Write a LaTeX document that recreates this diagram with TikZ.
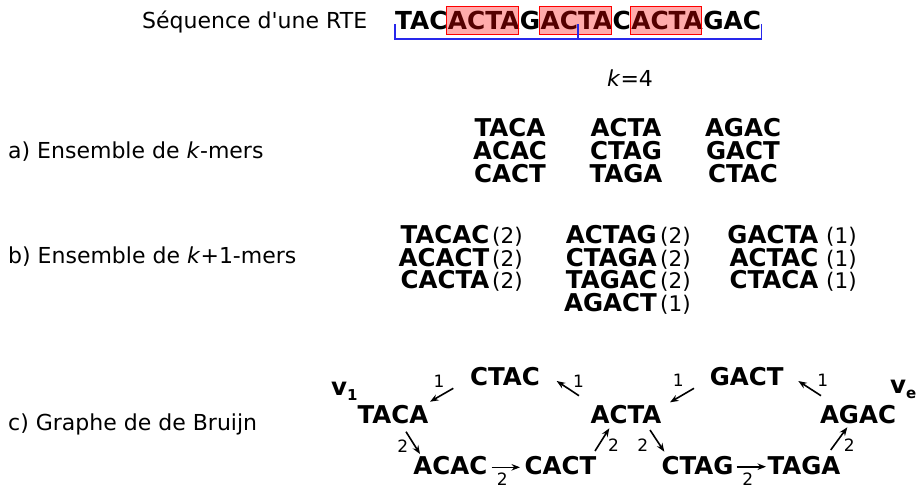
\documentclass[tikz,border=0pt]{standalone}
\usepackage{fontspec}
\setmainfont{DejaVu Sans}[Ligatures=TeXOff]
\usetikzlibrary{calc,arrows.meta}
\definecolor{seqblue}{RGB}{40,40,235}
\tikzset{
 lbl/.style={font=\fontsize{22}{26}\selectfont, inner sep=0pt, anchor=base west},
 mer/.style={font=\fontsize{24.5}{28}\selectfont\bfseries, inner sep=0pt, anchor=base},
 merR/.style={mer, anchor=base east},
 cnt/.style={font=\fontsize{21.5}{26}\selectfont, inner sep=0pt, anchor=base west},
 seq/.style={font=\fontsize{24.8}{28}\selectfont\bfseries, inner sep=0pt, anchor=base west},
 elbl/.style={font=\fontsize{17}{19}\selectfont, inner sep=0pt},
 arr/.style={-{Stealth[length=8.5pt,width=6.5pt]}, line width=1.6pt},
 redbox/.style={draw=red, line width=1pt, fill=red, fill opacity=0.33},
 bracket/.style={draw=seqblue, line width=1.4pt},
}
\begin{document}
\begin{tikzpicture}[x=1pt,y=-1pt]
\useasboundingbox (0,0) rectangle (918,488);
% title and sequence
\node[lbl] (title) at (142,28) {Séquence d'une RTE};
\node[seq] (s1) at (395,29.5) {TAC};
\node[seq] (s2) at (s1.base east) {ACTA};
\node[seq] (s3) at (s2.base east) {G};
\node[seq] (s4) at (s3.base east) {ACTA};
\node[seq] (s5) at (s4.base east) {C};
\node[seq] (s6) at (s5.base east) {ACTA};
\node[seq] (s7) at (s6.base east) {GAC};
\foreach \s in {s2,s4,s6}{
  \path[redbox] ($(\s.base west)+(-1,4.5)$) rectangle ($(\s.base east)+(-1.5,-22.8)$);
}
\draw[bracket] ($(s1.base west)+(0,-5.5)$) -- ($(s1.base west)+(0,9.5)$) -- ($(s7.base east)+(0,9.5)$) -- ($(s7.base east)+(0,-5.5)$);
\draw[bracket] ($(s1.base west)!0.5!(s7.base east)+(0,-5.5)$) -- ++(0,15);
% k=4
\node[font=\fontsize{22}{26}\selectfont, inner sep=0pt, anchor=base] (k) at (630,86.5) {\textit{k}=4};
% a) k-mers
\node[lbl] (la) at (8,158) {a) Ensemble de \textit{k}-mers};
\node[mer] (m11) at (510,136) {TACA};
\node[mer] (m12) at (510,159) {ACAC};
\node[mer] (m13) at (510,182) {CACT};
\node[mer] (m21) at (626,136) {ACTA};
\node[mer] (m22) at (626,159) {CTAG};
\node[mer] (m23) at (626,182) {TAGA};
\node[mer] (m31) at (743,136) {AGAC};
\node[mer] (m32) at (743,159) {GACT};
\node[mer] (m33) at (743,182) {CTAC};
% b) k+1-mers
\node[lbl] (lb) at (8,263.5) {b) Ensemble de \textit{k}+1-mers};
\node[merR] (p11) at (489.5,243.3) {TACAC};
\node[merR] (p12) at (489.5,266) {ACACT};
\node[merR] (p13) at (489.5,288.6) {CACTA};
\node[cnt] (c11) at (492,243.3) {(2)};
\node[cnt] (c12) at (492,266) {(2)};
\node[cnt] (c13) at (492,288.6) {(2)};
\node[merR] (p21) at (657,243.3) {ACTAG};
\node[merR] (p22) at (657,266) {CTAGA};
\node[merR] (p23) at (657,288.6) {TAGAC};
\node[merR] (p24) at (657,311.5) {AGACT};
\node[cnt] (c21) at (660,243.3) {(2)};
\node[cnt] (c22) at (660,266) {(2)};
\node[cnt] (c23) at (660,288.6) {(2)};
\node[cnt] (c24) at (660,311.5) {(1)};
\node[merR] (p31) at (818.5,243.3) {GACTA};
\node[merR] (p32) at (818.5,266) {ACTAC};
\node[merR] (p33) at (818.5,288.6) {CTACA};
\node[cnt] (c31) at (826,243.3) {(1)};
\node[cnt] (c32) at (826,266) {(1)};
\node[cnt] (c33) at (826,288.6) {(1)};
% c) graph
\node[lbl] (lc) at (8,430) {c) Graphe de de Bruijn};
\node[mer] (CTAC) at (505,385) {CTAC};
\node[mer] (TACA) at (393,423) {TACA};
\node[mer] (ACAC) at (450.3,474) {ACAC};
\node[mer] (CACT) at (560.5,474) {CACT};
\node[mer] (ACTA) at (626,423) {ACTA};
\node[mer] (GACT) at (746.7,385) {GACT};
\node[mer] (AGAC) at (858,423) {AGAC};
\node[mer] (CTAG) at (697.5,474) {CTAG};
\node[mer] (TAGA) at (804,474) {TAGA};
\node[font=\fontsize{24.5}{28}\selectfont\bfseries, inner sep=0pt, anchor=base west] (v1) at (331,395)
  {v\raisebox{-5pt}{\fontsize{15}{15}\selectfont 1}};
\node[font=\fontsize{24.5}{28}\selectfont\bfseries, inner sep=0pt, anchor=base west] (ve) at (890,393.3)
  {v\raisebox{-5pt}{\fontsize{15}{15}\selectfont e}};
% edges
\draw[arr] ($(CTAC.base)+(-51.7,3.3)$) -- ($(TACA.base)+(37,-21.3)$);
\draw[arr] ($(ACTA.base)+(-47,-27.3)$) -- ($(CTAC.base)+(51.7,-4)$);
\draw[arr] ($(TACA.base)+(13,8.7)$) -- ($(ACAC.base)+(-30.3,-20)$);
\draw[arr] ($(ACAC.base)+(41.4,-6.7)$) -- ($(CACT.base)+(-40.5,-6.7)$);
\draw[arr] ($(CACT.base)+(34.5,-23)$) -- ($(ACTA.base)+(-16.7,5.3)$);
\draw[arr] ($(GACT.base)+(-52.7,3.3)$) -- ($(ACTA.base)+(44,-20.7)$);
\draw[arr] ($(AGAC.base)+(-37,-27.3)$) -- ($(GACT.base)+(51.6,-4)$);
\draw[arr] ($(ACTA.base)+(24,7)$) -- ($(CTAG.base)+(-33.2,-22.3)$);
\draw[arr] ($(CTAG.base)+(39.2,-7.3)$) -- ($(TAGA.base)+(-38,-7.3)$);
\draw[arr] ($(TAGA.base)+(26.7,-24)$) -- ($(AGAC.base)+(-10.7,4.3)$);
% edge labels
\node[elbl] (e1) at (439,381.5) {1};
\node[elbl] (e2) at (578.5,381) {1};
\node[elbl] (e3) at (402.7,446.5) {2};
\node[elbl] (e4) at (502.3,479) {2};
\node[elbl] (e5) at (613.5,445.5) {2};
\node[elbl] (e6) at (678.3,380.7) {1};
\node[elbl] (e7) at (822.7,380.7) {1};
\node[elbl] (e8) at (642.7,445) {2};
\node[elbl] (e9) at (747.7,479) {2};
\node[elbl] (e10) at (849.3,445.5) {2};
\end{tikzpicture}
\end{document}
